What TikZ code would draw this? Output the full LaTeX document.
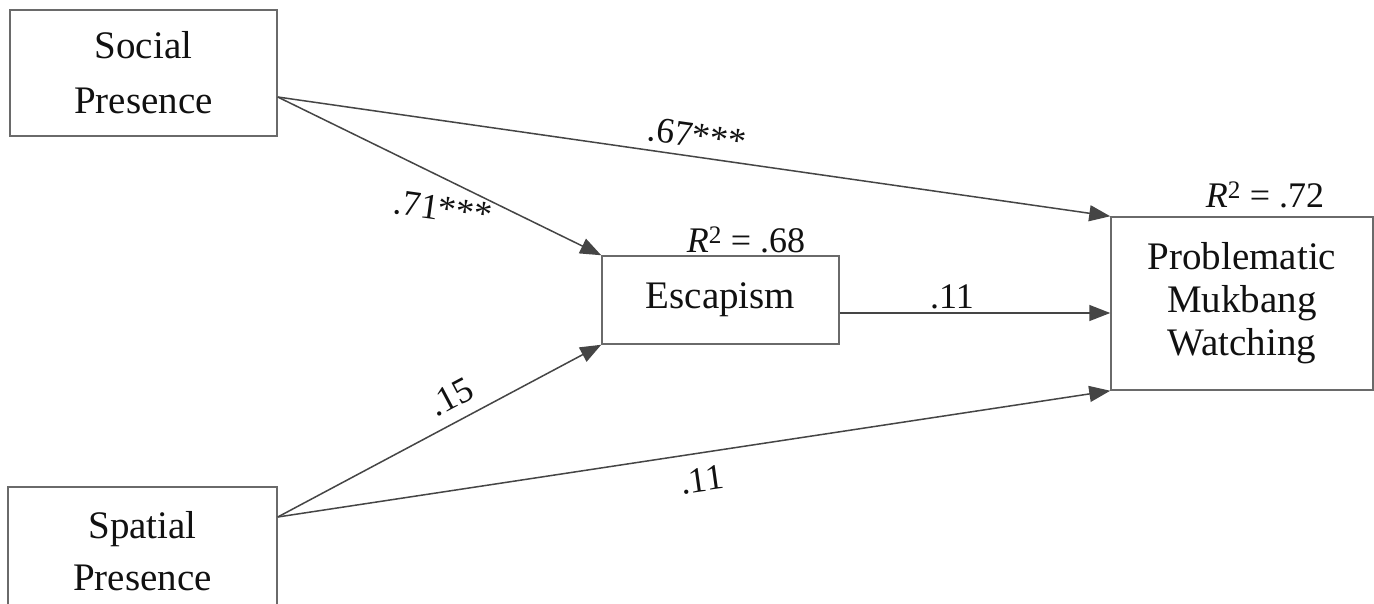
\documentclass[tikz,border=0pt]{standalone}
\usepackage{fontspec}
\setmainfont{Liberation Serif}
\usetikzlibrary{arrows.meta,calc}
\definecolor{boxgray}{HTML}{6A6A6A}
\definecolor{linegray}{HTML}{454545}
\definecolor{txt}{HTML}{111111}
\begin{document}
\begin{tikzpicture}[x=1pt,y=-1pt,
  box/.style={draw=boxgray, line width=1.5pt, inner sep=0pt, align=center, text=txt},
  conn/.style={draw=linegray, line width=1.5pt, -{Triangle[length=21pt,width=16pt]}},
  lab/.style={font=\fontsize{36}{40}\selectfont, inner sep=0pt, text=txt}]
\clip (0,0) rectangle (1374,603);
\fill[white] (0,0) rectangle (1374,603);
\node[box, minimum width=267pt, minimum height=126pt, font=\fontsize{39}{55}\selectfont] (social) at (143.5,73) {Social\\Presence};
\node[box, minimum width=269pt, minimum height=128pt, font=\fontsize{39}{52}\selectfont] (spatial) at (142.5,551) {Spatial\\Presence};
\node[box, minimum width=237pt, minimum height=88pt, font=\fontsize{39}{44}\selectfont] (esc) at (720.5,300) {Escapism};
\node[box, minimum width=262pt, minimum height=173pt, font=\fontsize{39}{43}\selectfont] (pmw) at (1242,303.5) {Problematic\\Mukbang\\Watching};
\coordinate (s1) at ([yshift=-24pt]social.east);
\coordinate (s2) at ([yshift=34pt]spatial.east);
\coordinate (e1) at ([yshift=-13pt]esc.east);
\draw[conn] (s1) -- (pmw.north west);
\draw[conn] (s1) -- (esc.north west);
\draw[conn] (s2) -- (esc.south west);
\draw[conn] (s2) -- (pmw.south west);
\draw[conn] (e1) -- (e1 -| pmw.west);
\node[lab, rotate=-8] (l67) at (697,136) {.67***};
\node[lab, rotate=-8] (l71) at (443,209) {.71***};
\node[lab, rotate=28] (l15) at (451,397) {.15};
\node[lab, rotate=8] (l11b) at (702,480) {.11};
\node[lab] (l11m) at (952,297) {.11};
\node[lab] (r68) at (746,240) {\textit{R}\textsuperscript{2} = .68};
\node[lab] (r72) at (1265,195) {\textit{R}\textsuperscript{2} = .72};
\end{tikzpicture}
\end{document}
